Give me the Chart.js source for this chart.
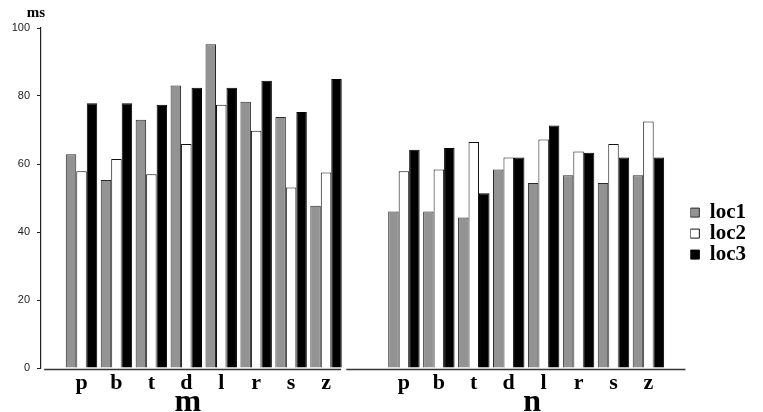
<!DOCTYPE html>
<html>
<head>
<meta charset="utf-8">
<script src="https://cdn.jsdelivr.net/npm/chart.js@4.4.1/dist/chart.umd.min.js"></script>
<style>
html,body{margin:0;padding:0;background:#fff;}
#wrap{width:763px;height:412px;}
</style>
</head>
<body>
<div id="wrap"><canvas id="c" width="763" height="412"></canvas></div>
<script>
// ---- data ----
const categories = ['p','b','t','d','l','r','s','z'];
const groups = ['m','n'];
const seriesNames = ['loc1','loc2','loc3'];
const m_loc1 = [62.9,55.3,73.0,83.1,95.2,78.3,73.8,47.7];
const m_loc2 = [57.9,61.5,57.0,65.9,77.4,69.8,53.1,57.5];
const m_loc3 = [77.9,77.9,77.4,82.4,82.4,84.5,75.3,85.0];
const n_loc1 = [46.0,46.0,44.3,58.4,54.4,56.7,54.4,56.7];
const n_loc2 = [57.9,58.4,66.5,61.9,67.2,63.7,65.9,72.5];
const n_loc3 = [64.2,64.7,51.4,61.9,71.3,63.3,61.9,61.9];
const yTicks = [0,20,40,60,80,100];

// ---- layout constants (axis units) ----
const N_OFFSET = 9.23;          // where group n starts on the x scale
const X_MIN = -1.16, X_MAX = 17.43;
const GROUP_LABEL_POS = [3.04, 12.9];
const AXIS_SEGMENTS = [[-1.07, 7.43], [7.58, 17.29]];

const catPos = [...categories.map((c,i)=>i), ...categories.map((c,i)=>N_OFFSET+i)];
const catLabels = [...categories, ...categories];
function series(mVals, nVals){
  return [...mVals.map((v,i)=>({x:i, y:v})), ...nVals.map((v,i)=>({x:N_OFFSET+i, y:v}))];
}
const styles = [
  {bg:'#939393', border:'#2a2a2a'},
  {bg:'#ffffff', border:'#111111'},
  {bg:'#000000', border:'#000000'}
];
const seriesData = [series(m_loc1,n_loc1), series(m_loc2,n_loc2), series(m_loc3,n_loc3)];

const serif = '"Liberation Serif", "Times New Roman", serif';

const extras = {
  id:'extras',
  afterDraw(chart){
    const ctx = chart.ctx, xs = chart.scales.x, a = chart.chartArea;
    ctx.save();
    ctx.strokeStyle = '#333';
    ctx.lineWidth = 1.6;
    AXIS_SEGMENTS.forEach(([s,e])=>{
      ctx.beginPath();
      ctx.moveTo(xs.getPixelForValue(s), a.bottom + 1.5);
      ctx.lineTo(xs.getPixelForValue(e), a.bottom + 1.5);
      ctx.stroke();
    });
    ctx.fillStyle = '#000';
    ctx.font = 'bold 15px ' + serif;
    ctx.textAlign = 'center';
    ctx.textBaseline = 'alphabetic';
    ctx.fillText('ms', a.left - 5, a.top - 11);
    ctx.restore();
  }
};

new Chart(document.getElementById('c'), {
  type:'bar',
  data:{
    datasets: seriesNames.map((name,k)=>({
      label:name,
      data:seriesData[k],
      backgroundColor:styles[k].bg,
      borderColor:styles[k].border,
      borderWidth:1,
      borderSkipped:'start',
      categoryPercentage:0.9,
      barPercentage:1.0
    }))
  },
  options:{
    responsive:false,
    animation:false,
    devicePixelRatio:1,
    layout:{padding:{top:28,left:0,right:7,bottom:0}},
    plugins:{
      tooltip:{enabled:false},
      legend:{
        position:'right',
        title:{display:true, text:'', padding:{top:26,bottom:0}, font:{size:1}},
        labels:{
          boxWidth:9, boxHeight:9, padding:0,
          color:'#000',
          font:{family:serif, weight:'bold', size:21}
        }
      }
    },
    scales:{
      x:{
        type:'linear', position:'bottom', weight:0,
        min:X_MIN, max:X_MAX, offset:false,
        grid:{display:false, drawTicks:false},
        border:{display:false},
        afterBuildTicks(s){ s.ticks = catPos.map(v=>({value:v})); },
        afterFit(s){ s.height = 27; },
        ticks:{
          autoSkip:false, maxRotation:0, padding:2, color:'#000',
          font:{family:serif, weight:'bold', size:22},
          callback:(v,i)=>catLabels[i]
        }
      },
      xg:{
        type:'linear', position:'bottom', weight:1,
        min:X_MIN, max:X_MAX, offset:false,
        grid:{display:false, drawTicks:false},
        border:{display:false},
        afterBuildTicks(s){ s.ticks = GROUP_LABEL_POS.map(v=>({value:v})); },
        afterFit(s){ s.height = 17; },
        ticks:{
          autoSkip:false, maxRotation:0, mirror:true, padding:-26.5, color:'#000',
          font:{family:serif, weight:'bold', size:32},
          callback:(v,i)=>groups[i]
        }
      },
      y:{
        min:0, max:100,
        afterBuildTicks(s){ s.ticks = yTicks.map(v=>({value:v})); },
        afterFit(s){ s.width = 41; },
        grid:{drawOnChartArea:false, tickLength:4, color:'#222'},
        border:{display:true, color:'#222', width:1.2},
        ticks:{padding:7, color:'#222', font:{family:'"Liberation Sans", Arial, sans-serif', size:11}}
      }
    }
  },
  plugins:[extras]
});
</script>
</body>
</html>
